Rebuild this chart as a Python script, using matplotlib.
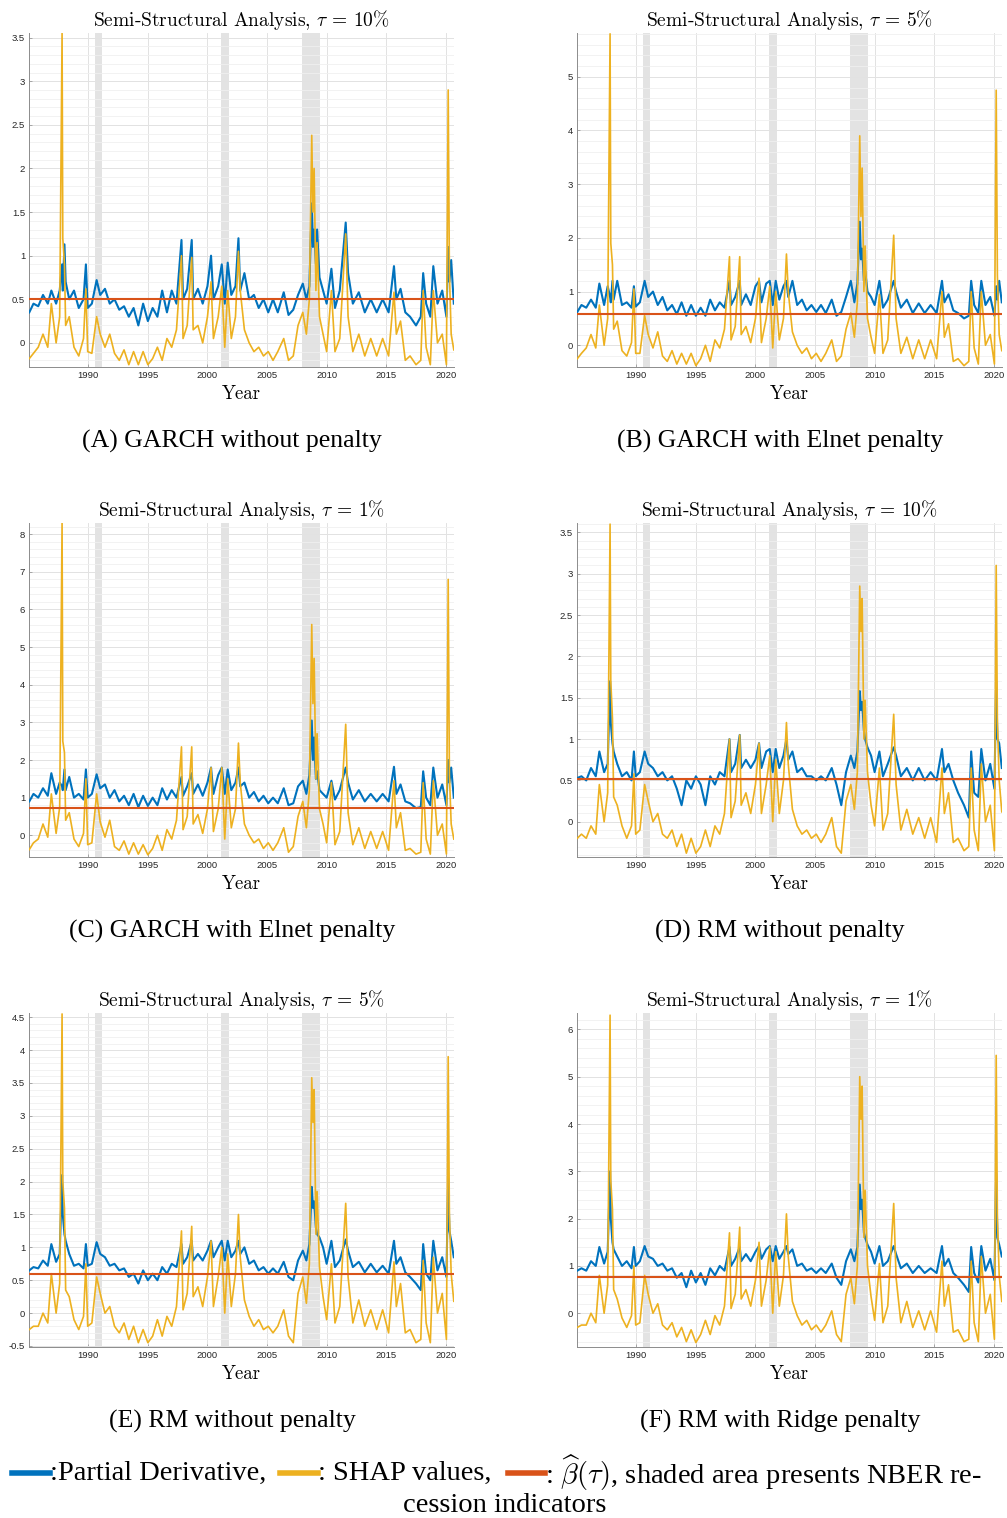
import numpy as np
import matplotlib
matplotlib.use("Agg")
import matplotlib.pyplot as plt
from matplotlib.lines import Line2D
from matplotlib.ticker import MultipleLocator

plt.rcParams["mathtext.fontset"] = "cm"

# ── shared weekly-ish time stamps ───────────────────────────────────────────
years = [1985.05, 1985.4, 1985.8, 1986.2, 1986.6, 1986.9, 1987.3, 1987.6, 1987.80, 1987.86,
         1988.0, 1988.1, 1988.4, 1988.8, 1989.2, 1989.6, 1989.8, 1989.95, 1990.3, 1990.7,
         1991.0, 1991.4, 1991.8, 1992.2, 1992.6, 1993.0, 1993.4, 1993.8, 1994.2, 1994.6,
         1995.0, 1995.4, 1995.8, 1996.2, 1996.6, 1997.0, 1997.4, 1997.82, 1997.95, 1998.3,
         1998.68, 1998.8, 1999.2, 1999.6, 2000.0, 2000.3, 2000.5, 2000.9, 2001.2, 2001.45,
         2001.7, 2002.0, 2002.35, 2002.6, 2002.75, 2003.1, 2003.5, 2003.9, 2004.3, 2004.7,
         2005.1, 2005.5, 2005.9, 2006.4, 2006.8, 2007.2, 2007.6, 2008.0, 2008.3, 2008.55,
         2008.75, 2008.85, 2008.95, 2009.1, 2009.2, 2009.4, 2009.7, 2010.0, 2010.4, 2010.7,
         2011.1, 2011.6, 2011.8, 2012.2, 2012.7, 2013.2, 2013.7, 2014.2, 2014.7, 2015.2,
         2015.65, 2015.85, 2016.2, 2016.6, 2017.0, 2017.5, 2017.9, 2018.1, 2018.35, 2018.7,
         2018.95, 2019.3, 2019.7, 2020.05, 2020.2, 2020.3, 2020.45, 2020.67]

# NBER recessions
recessions = [(1990.54, 1991.17), (2001.17, 2001.83), (2007.92, 2009.42)]

# ── (A) GARCH without penalty, tau = 10% ────────────────────────────────────
pd_a = [0.35, 0.45, 0.42, 0.55, 0.45, 0.6, 0.45, 0.6, 0.9, 0.6,
        1.13, 0.7, 0.5, 0.6, 0.4, 0.5, 0.9, 0.4, 0.45, 0.72,
        0.55, 0.62, 0.45, 0.5, 0.38, 0.42, 0.3, 0.4, 0.2, 0.45,
        0.25, 0.4, 0.3, 0.6, 0.35, 0.6, 0.45, 1.18, 0.5, 0.62,
        1.18, 0.5, 0.62, 0.45, 0.65, 1.0, 0.5, 0.65, 0.9, 0.45,
        0.92, 0.55, 0.65, 1.2, 0.6, 0.8, 0.5, 0.55, 0.4, 0.5,
        0.35, 0.5, 0.35, 0.58, 0.32, 0.38, 0.55, 0.68, 0.5, 0.65,
        1.6, 1.1, 1.3, 0.9, 1.3, 0.75, 0.6, 0.45, 0.85, 0.4,
        0.6, 1.38, 0.8, 0.45, 0.58, 0.35, 0.5, 0.35, 0.5, 0.35,
        0.88, 0.5, 0.62, 0.35, 0.3, 0.2, 0.3, 0.8, 0.45, 0.3,
        0.88, 0.45, 0.6, 0.3, 1.1, 0.7, 0.95, 0.45]
shap_a = [-0.18, -0.12, -0.05, 0.1, -0.05, 0.45, 0.0, 0.3, 3.55, 1.2,
          0.9, 0.2, 0.3, -0.05, -0.15, 0.05, 0.62, -0.1, -0.12, 0.3,
          0.1, -0.05, 0.1, -0.12, -0.2, -0.08, -0.25, -0.1, -0.25, -0.1,
          -0.25, -0.18, -0.05, -0.2, 0.05, -0.05, 0.15, 1.0, 0.05, 0.2,
          0.98, 0.15, 0.2, 0.0, 0.3, 0.7, 0.05, 0.3, 0.65, -0.05,
          0.6, 0.05, 0.3, 1.05, 0.6, 0.15, 0.0, -0.1, -0.05, -0.15,
          -0.1, -0.2, -0.1, 0.05, -0.2, -0.15, 0.2, 0.35, 0.1, 0.5,
          2.38, 1.5, 2.0, 0.6, 1.15, 0.3, 0.1, -0.1, 0.6, -0.1,
          0.05, 1.25, 0.3, -0.1, 0.1, -0.15, 0.05, -0.15, 0.05, -0.15,
          0.58, 0.1, 0.25, -0.2, -0.15, -0.25, -0.2, 0.6, -0.05, -0.25,
          0.6, 0.0, 0.1, -0.25, 2.9, 0.8, 0.1, -0.08]
beta_a = 0.505

# ── (B) GARCH with Elnet penalty, tau = 5% ──────────────────────────────────
pd_b = [0.62, 0.75, 0.7, 0.85, 0.7, 1.15, 0.75, 1.1, 0.9, 0.8,
        1.2, 0.85, 1.2, 0.75, 0.8, 0.7, 1.1, 0.72, 0.8, 1.2,
        0.9, 1.0, 0.75, 0.9, 0.65, 0.75, 0.58, 0.8, 0.55, 0.75,
        0.55, 0.7, 0.55, 0.85, 0.65, 0.8, 0.7, 1.2, 0.75, 0.9,
        1.2, 0.75, 0.95, 0.75, 1.1, 1.2, 0.8, 1.15, 1.2, 0.75,
        1.2, 0.85, 1.1, 1.2, 0.9, 1.2, 0.75, 0.85, 0.65, 0.75,
        0.62, 0.75, 0.6, 0.85, 0.55, 0.62, 0.9, 1.2, 0.8, 1.15,
        2.3, 1.6, 1.8, 1.2, 1.4, 1.0, 0.9, 0.75, 1.2, 0.7,
        0.85, 1.2, 1.0, 0.7, 0.85, 0.6, 0.78, 0.6, 0.75, 0.6,
        1.2, 0.8, 0.95, 0.65, 0.6, 0.5, 0.55, 1.2, 0.75, 0.6,
        1.2, 0.75, 0.9, 0.55, 1.1, 0.85, 1.2, 0.8]
shap_b = [-0.25, -0.15, -0.05, 0.2, -0.05, 0.75, 0.0, 0.5, 5.8, 1.9,
          1.5, 0.3, 0.45, -0.1, -0.2, 0.05, 1.05, -0.15, -0.15, 0.55,
          0.2, -0.05, 0.25, -0.2, -0.3, -0.1, -0.35, -0.15, -0.35, -0.15,
          -0.38, -0.25, 0.0, -0.3, 0.1, -0.05, 0.3, 1.65, 0.1, 0.35,
          1.65, 0.2, 0.35, 0.05, 0.5, 1.25, 0.05, 0.5, 1.1, -0.05,
          1.0, 0.1, 0.5, 1.7, 1.0, 0.25, 0.0, -0.15, -0.05, -0.25,
          -0.15, -0.3, -0.15, 0.1, -0.3, -0.2, 0.3, 0.6, 0.15, 0.8,
          3.9, 2.4, 3.3, 1.0, 1.85, 0.5, 0.15, -0.15, 0.95, -0.15,
          0.1, 2.05, 0.5, -0.15, 0.15, -0.25, 0.1, -0.25, 0.1, -0.25,
          1.0, 0.15, 0.4, -0.3, -0.25, -0.38, -0.3, 1.0, -0.05, -0.35,
          1.0, 0.0, 0.2, -0.35, 4.75, 1.3, 0.2, -0.1]
beta_b = 0.58

# ── (C) GARCH with Elnet penalty, tau = 1% ──────────────────────────────────
pd_c = [0.9, 1.1, 1.0, 1.25, 1.05, 1.65, 1.1, 1.4, 1.3, 1.2,
        1.75, 1.2, 1.55, 1.0, 1.1, 0.95, 1.75, 1.0, 1.1, 1.62,
        1.25, 1.35, 1.0, 1.2, 0.9, 1.05, 0.8, 1.1, 0.75, 1.05,
        0.78, 1.0, 0.8, 1.25, 0.95, 1.2, 1.0, 1.55, 1.05, 1.3,
        1.65, 1.1, 1.35, 1.05, 1.4, 1.8, 1.1, 1.6, 1.8, 1.1,
        1.75, 1.2, 1.4, 1.8, 1.3, 1.4, 1.0, 1.15, 0.9, 1.05,
        0.85, 1.0, 0.85, 1.25, 0.8, 0.85, 1.3, 1.45, 1.1, 1.6,
        3.05, 2.0, 2.6, 1.5, 1.7, 1.2, 1.1, 1.0, 1.45, 0.95,
        1.2, 1.8, 1.4, 0.95, 1.2, 0.9, 1.1, 0.9, 1.1, 0.9,
        1.82, 1.1, 1.35, 0.9, 0.85, 0.72, 0.75, 1.7, 1.0, 0.8,
        1.8, 1.0, 1.35, 0.8, 2.0, 1.4, 1.8, 1.0]
shap_c = [-0.38, -0.2, -0.1, 0.3, -0.05, 1.1, 0.05, 0.75, 8.3, 2.5,
          2.2, 0.4, 0.6, -0.1, -0.3, 0.05, 1.5, -0.25, -0.2, 1.1,
          0.35, -0.05, 0.4, -0.3, -0.4, -0.15, -0.5, -0.2, -0.5, -0.25,
          -0.52, -0.35, 0.0, -0.4, 0.15, -0.1, 0.4, 2.35, 0.15, 0.5,
          2.35, 0.3, 0.55, 0.05, 0.7, 1.8, 0.1, 0.7, 1.8, -0.1,
          1.5, 0.2, 0.7, 2.45, 1.4, 0.3, 0.0, -0.2, -0.1, -0.35,
          -0.2, -0.4, -0.2, 0.2, -0.45, -0.3, 0.5, 0.9, 0.2, 1.2,
          5.6, 3.5, 4.7, 1.5, 2.7, 0.7, 0.3, -0.2, 1.4, -0.25,
          0.1, 2.95, 0.6, -0.25, 0.2, -0.35, 0.1, -0.35, 0.1, -0.4,
          1.45, 0.2, 0.6, -0.4, -0.35, -0.5, -0.45, 1.4, -0.1, -0.5,
          1.45, 0.0, 0.3, -0.5, 6.8, 1.6, 0.3, -0.1]
beta_c = 0.72

# ── (D) RM without penalty, tau = 10% ───────────────────────────────────────
pd_d = [0.53, 0.55, 0.5, 0.65, 0.55, 0.85, 0.6, 0.7, 1.7, 1.2,
        0.95, 0.85, 0.7, 0.55, 0.6, 0.5, 0.85, 0.55, 0.6, 0.85,
        0.7, 0.65, 0.55, 0.6, 0.5, 0.55, 0.4, 0.2, 0.5, 0.4,
        0.55, 0.45, 0.2, 0.55, 0.45, 0.6, 0.55, 1.0, 0.6, 0.7,
        1.05, 0.65, 0.75, 0.65, 0.75, 0.95, 0.65, 0.85, 0.88, 0.6,
        0.88, 0.65, 0.8, 1.0, 0.75, 0.85, 0.6, 0.65, 0.55, 0.55,
        0.5, 0.55, 0.5, 0.65, 0.45, 0.2, 0.6, 0.8, 0.65, 0.85,
        1.58, 1.35, 1.45, 1.1, 1.0, 0.9, 0.8, 0.6, 0.85, 0.55,
        0.7, 0.9, 0.8, 0.55, 0.65, 0.5, 0.65, 0.5, 0.6, 0.5,
        0.88, 0.6, 0.7, 0.5, 0.35, 0.2, 0.05, 0.85, 0.35, 0.3,
        0.88, 0.5, 0.7, 0.4, 1.7, 1.0, 0.95, 0.65]
shap_d = [-0.2, -0.15, -0.2, -0.05, -0.15, 0.45, 0.0, 0.35, 3.6, 1.7,
          1.25, 0.3, 0.2, -0.05, -0.2, -0.05, 0.58, -0.15, -0.1, 0.45,
          0.25, 0.0, 0.1, -0.15, -0.2, -0.1, -0.3, -0.15, -0.38, -0.2,
          -0.38, -0.3, -0.1, -0.3, -0.05, -0.15, 0.1, 1.0, 0.05, 0.25,
          1.05, 0.2, 0.35, 0.1, 0.45, 0.95, 0.1, 0.45, 0.8, 0.0,
          0.75, 0.1, 0.5, 1.2, 0.7, 0.15, -0.05, -0.15, -0.1, -0.2,
          -0.15, -0.25, -0.15, 0.05, -0.3, -0.38, 0.25, 0.45, 0.15, 0.6,
          2.85, 2.3, 2.7, 1.0, 1.47, 0.6, 0.2, -0.05, 0.65, -0.1,
          0.1, 1.3, 0.45, -0.1, 0.15, -0.15, 0.05, -0.2, 0.05, -0.25,
          0.65, 0.1, 0.35, -0.25, -0.2, -0.35, -0.3, 0.65, -0.1, -0.35,
          0.7, 0.0, 0.2, -0.35, 3.1, 1.2, 0.5, 0.12]
beta_d = 0.52

# ── (E) RM without penalty, tau = 5% ────────────────────────────────────────
pd_e = [0.65, 0.7, 0.68, 0.8, 0.72, 1.05, 0.78, 0.9, 2.1, 1.5,
        1.2, 1.1, 0.9, 0.72, 0.75, 0.68, 1.05, 0.72, 0.75, 1.08,
        0.9, 0.85, 0.72, 0.75, 0.65, 0.68, 0.55, 0.6, 0.45, 0.65,
        0.5, 0.6, 0.5, 0.7, 0.6, 0.75, 0.7, 1.05, 0.75, 0.85,
        1.1, 0.8, 0.9, 0.8, 0.95, 1.1, 0.85, 1.0, 1.1, 0.8,
        1.1, 0.85, 0.95, 1.1, 0.9, 1.0, 0.75, 0.8, 0.65, 0.7,
        0.6, 0.68, 0.6, 0.78, 0.55, 0.5, 0.8, 0.95, 0.8, 1.05,
        1.92, 1.6, 1.7, 1.3, 1.2, 1.15, 1.0, 0.75, 1.1, 0.7,
        0.8, 1.12, 0.95, 0.7, 0.78, 0.62, 0.75, 0.62, 0.72, 0.6,
        1.1, 0.75, 0.85, 0.62, 0.55, 0.45, 0.35, 1.05, 0.6, 0.5,
        1.1, 0.65, 0.85, 0.55, 2.05, 1.25, 1.1, 0.85]
shap_e = [-0.25, -0.2, -0.2, 0.0, -0.15, 0.6, 0.0, 0.45, 4.55, 2.0,
          1.6, 0.35, 0.25, -0.1, -0.25, -0.05, 0.75, -0.2, -0.15, 0.55,
          0.3, 0.0, 0.1, -0.2, -0.3, -0.15, -0.4, -0.2, -0.45, -0.25,
          -0.45, -0.35, -0.1, -0.35, -0.05, -0.2, 0.1, 1.25, 0.05, 0.3,
          1.32, 0.25, 0.4, 0.1, 0.55, 1.1, 0.1, 0.55, 1.0, 0.0,
          0.9, 0.1, 0.6, 1.5, 0.85, 0.2, -0.05, -0.2, -0.1, -0.25,
          -0.2, -0.3, -0.2, 0.05, -0.35, -0.45, 0.3, 0.55, 0.15, 0.75,
          3.58, 2.9, 3.4, 1.2, 1.85, 0.7, 0.25, -0.1, 0.75, -0.15,
          0.1, 1.67, 0.55, -0.15, 0.2, -0.2, 0.05, -0.25, 0.05, -0.3,
          0.78, 0.1, 0.45, -0.3, -0.25, -0.45, -0.4, 0.8, -0.15, -0.45,
          0.85, 0.0, 0.3, -0.4, 3.9, 1.5, 0.6, 0.18]
beta_e = 0.59

# ── (F) RM with Ridge penalty, tau = 1% ─────────────────────────────────────
pd_f = [0.9, 0.95, 0.9, 1.1, 1.0, 1.4, 1.05, 1.3, 3.0, 2.0,
        1.5, 1.35, 1.2, 1.0, 1.1, 0.95, 1.4, 1.0, 1.1, 1.42,
        1.2, 1.15, 1.0, 1.05, 0.9, 0.95, 0.75, 0.85, 0.55, 0.9,
        0.65, 0.85, 0.6, 0.95, 0.8, 1.0, 0.9, 1.4, 1.0, 1.15,
        1.4, 1.1, 1.25, 1.1, 1.3, 1.42, 1.15, 1.35, 1.42, 1.1,
        1.42, 1.15, 1.3, 1.42, 1.25, 1.35, 1.0, 1.05, 0.9, 0.95,
        0.85, 0.95, 0.85, 1.05, 0.75, 0.6, 1.1, 1.35, 1.1, 1.4,
        2.72, 2.2, 2.4, 1.7, 1.6, 1.45, 1.3, 1.05, 1.42, 1.0,
        1.1, 1.42, 1.25, 0.95, 1.05, 0.85, 1.0, 0.85, 0.95, 0.85,
        1.42, 1.0, 1.15, 0.85, 0.75, 0.6, 0.45, 1.4, 0.85, 0.65,
        1.42, 0.9, 1.15, 0.7, 2.95, 1.6, 1.45, 1.2]
shap_f = [-0.3, -0.25, -0.25, 0.0, -0.2, 0.8, 0.0, 0.6, 6.3, 2.8,
          2.2, 0.5, 0.3, -0.1, -0.3, -0.05, 1.0, -0.25, -0.2, 0.8,
          0.4, 0.0, 0.2, -0.25, -0.35, -0.2, -0.5, -0.3, -0.6, -0.35,
          -0.62, -0.45, -0.15, -0.45, -0.05, -0.25, 0.15, 1.7, 0.1, 0.4,
          1.82, 0.3, 0.5, 0.15, 0.7, 1.5, 0.15, 0.7, 1.4, 0.0,
          1.3, 0.15, 0.8, 2.1, 1.2, 0.25, -0.05, -0.25, -0.15, -0.35,
          -0.25, -0.4, -0.25, 0.05, -0.45, -0.6, 0.4, 0.75, 0.2, 1.0,
          5.0, 4.1, 4.8, 1.6, 2.6, 1.0, 0.35, -0.15, 1.05, -0.2,
          0.15, 2.32, 0.75, -0.2, 0.25, -0.3, 0.05, -0.35, 0.05, -0.4,
          1.1, 0.15, 0.6, -0.4, -0.35, -0.6, -0.55, 1.1, -0.2, -0.6,
          1.2, 0.0, 0.4, -0.55, 5.45, 2.0, 0.8, 0.25]
beta_f = 0.77

taus = ["10", "5", "1", "10", "5", "1"]
captions = ["(A) GARCH without penalty", "(B) GARCH with Elnet penalty",
            "(C) GARCH with Elnet penalty", "(D) RM without penalty",
            "(E) RM without penalty", "(F) RM with Ridge penalty"]

panels = [(pd_a, shap_a, beta_a), (pd_b, shap_b, beta_b), (pd_c, shap_c, beta_c),
          (pd_d, shap_d, beta_d), (pd_e, shap_e, beta_e), (pd_f, shap_f, beta_f)]

# layout-only settings
ylims = [(-0.28, 3.55), (-0.41, 5.81), (-0.585, 8.29), (-0.43, 3.61), (-0.52, 4.56), (-0.72, 6.34)]
ymajor = [0.5, 1, 1, 0.5, 0.5, 1]
yminor = [0.1, 0.2, 0.2, 0.1, 0.1, 0.2]

BLUE, YELLOW, RED = "#0072BD", "#EDB120", "#D95319"
W, H = 1007, 1518
fig = plt.figure(figsize=(W / 100, H / 100), dpi=100, facecolor="white")

lefts = [29.3, 577.3]
tops = [33.3, 523.3, 1013.3]
cap_x = [232, 780]
ax_w, ax_h = 424.5, 334.0
SERIF = "Liberation Serif"

for i, (pdv, shv, beta) in enumerate(panels):
    r, c = divmod(i, 2)
    left, top = lefts[c], tops[r]
    ax = fig.add_axes([left / W, 1 - (top + ax_h) / H, ax_w / W, ax_h / H])

    for a, b in recessions:
        ax.axvspan(a, b, color="#e3e3e3", lw=0, zorder=0)
    ax.plot(years, pdv, color=BLUE, lw=1.5, zorder=3)
    ax.plot(years, shv, color=YELLOW, lw=1.2, zorder=4)
    ax.axhline(beta, color=RED, lw=1.5, zorder=5)

    ax.set_xlim(1985.05, 2020.67)
    ax.set_ylim(*ylims[i])
    ax.set_xticks([1990, 1995, 2000, 2005, 2010, 2015, 2020])
    ax.yaxis.set_major_locator(MultipleLocator(ymajor[i]))
    ax.yaxis.set_minor_locator(MultipleLocator(yminor[i]))
    ax.grid(True, which="major", color="#e2e2e2", lw=0.7)
    ax.grid(True, which="minor", axis="y", color="#f0f0f0", lw=0.6)
    ax.set_axisbelow(True)
    for s in ["top", "right"]:
        ax.spines[s].set_visible(False)
    for s in ["left", "bottom"]:
        ax.spines[s].set_color("#8c8c8c")
        ax.spines[s].set_linewidth(0.7)
    ax.tick_params(which="both", direction="in", length=2.5, width=0.5,
                   color="#8c8c8c", labelsize=6.8, labelcolor="#262626", pad=3)
    ax.tick_params(which="minor", length=0)
    ax.yaxis.set_major_formatter(plt.FuncFormatter(lambda v, p: f"{v:g}"))
    for lab in ax.get_xticklabels() + ax.get_yticklabels():
        lab.set_family("Liberation Sans")

    ax.set_title(r"Semi-Structural Analysis, $\tau$ = " + taus[i] + "%",
                 family="cmr10", fontsize=14, pad=5)
    ax.set_xlabel("Year", family="cmr10", fontsize=13.5, labelpad=3)

    fig.text(cap_x[c] / W, 1 - (top + 408) / H, captions[i], family=SERIF,
             fontsize=18.5, ha="center", va="center")

# ── bottom legend line ──────────────────────────────────────────────────────
ly = 1 - 1473 / H
for x0, x1, col in [(12, 50, BLUE), (280, 318, YELLOW), (508, 545, RED)]:
    fig.add_artist(Line2D([x0 / W, x1 / W], [ly, ly], color=col, lw=4,
                          transform=fig.transFigure))
fig.text(50 / W, ly, ":Partial Derivative,", family=SERIF, fontsize=20.5,
         ha="left", va="center")
fig.text(318 / W, ly, ": SHAP values,", family=SERIF, fontsize=20.5,
         ha="left", va="center")
fig.text(545 / W, ly, r": $\widehat{\beta}(\tau)$, shaded area presents NBER re-",
         family=SERIF, fontsize=20.5, ha="left", va="center")
fig.text(505 / W, 1 - 1505 / H, "cession indicators", family=SERIF,
         fontsize=20.5, ha="center", va="center")

fig.savefig("out.png", dpi=100, facecolor="white")
